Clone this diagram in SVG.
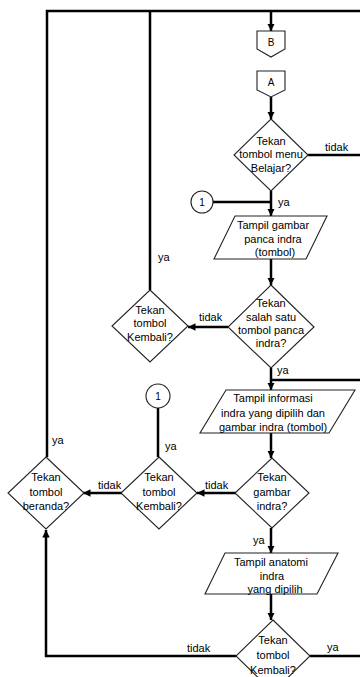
<svg xmlns="http://www.w3.org/2000/svg" width="360" height="677" viewBox="0 0 360 677">
<defs>
<marker id="arr" viewBox="0 0 10 10" refX="10" refY="5" markerWidth="3" markerHeight="3" orient="auto" markerUnits="strokeWidth">
<path d="M0,0 L10,5 L0,10 z" fill="#000"/>
</marker>
<style>
.shape{fill:#fff;stroke:#222;stroke-width:1.1}
.ln{fill:none;stroke:#000;stroke-width:2.5}
.la{fill:none;stroke:#000;stroke-width:2.5;marker-end:url(#arr)}
text{font-family:"Liberation Sans",Arial,sans-serif;font-size:11px;fill:#000}
.c{text-anchor:middle}
</style>
</defs>
<rect width="360" height="677" fill="#fff"/>
<g id="connectors">
<path class="ln" d="M47,457 V11 H360"/>
<path class="ln" d="M150,290 V11"/>
<path class="la" d="M271,11 V31"/>
<path class="la" d="M271,97 V119"/>
<path class="ln" d="M308,155 H360"/>
<path class="ln" d="M213,202 H271"/>
<path class="la" d="M271,191 V216"/>
<path class="la" d="M271,259 V285"/>
<path class="la" d="M228,327 H188"/>
<path class="la" d="M271,368 V390"/>
<path class="ln" d="M360,380 H271"/>
<path class="la" d="M271,433 V458"/>
<path class="la" d="M236,493 H197"/>
<path class="la" d="M122,493 H83"/>
<path class="ln" d="M158,408 V457"/>
<path class="la" d="M271,528 V553"/>
<path class="la" d="M271,594 V620"/>
<path class="la" d="M236,656 H46 V530"/>
<path class="ln" d="M310,656 H360"/>
<text x="325" y="151">tidak</text>
<text x="278" y="206">ya</text>
<text x="158" y="261">ya</text>
<text x="199" y="321">tidak</text>
<text x="277" y="374">ya</text>
<text x="52" y="444">ya</text>
<text x="165" y="450">ya</text>
<text x="205" y="489">tidak</text>
<text x="98" y="489">tidak</text>
<text x="253" y="544">ya</text>
<text x="187" y="652">tidak</text>
<text x="327" y="651">ya</text>
</g>
<g id="offpage-B">
<path class="shape" d="M257,31 H285 V49 L271,57 L257,49 Z"/>
<text class="c" x="271" y="46" style="font-size:10px">B</text>
</g>
<g id="offpage-A">
<path class="shape" d="M257,71 H285 V90 L271,97 L257,90 Z"/>
<text class="c" x="271" y="86" style="font-size:10px">A</text>
</g>
<g id="d-menu-belajar">
<path class="shape" d="M271,119 L308,155 L271,191 L234,155 Z"/>
<text class="c" x="271" y="145">Tekan</text>
<text class="c" x="271" y="158">tombol menu</text>
<text class="c" x="271" y="172">Belajar?</text>
</g>
<g id="conn-1a">
<circle class="shape" cx="202" cy="202" r="11"/>
<text class="c" x="202" y="206" style="font-size:10px">1</text>
</g>
<g id="p-gambar-panca">
<path class="shape" d="M235,216 H327 L306,259 H214 Z"/>
<text class="c" x="273" y="229">Tampil gambar</text>
<text class="c" x="273" y="243">panca indra</text>
<text class="c" x="275" y="256">(tombol)</text>
</g>
<g id="d-salah-satu">
<path class="shape" d="M271,285 L314,327 L271,368 L228,327 Z"/>
<text class="c" x="271" y="307">Tekan</text>
<text class="c" x="271" y="321">salah satu</text>
<text class="c" x="271" y="334">tombol panca</text>
<text class="c" x="271" y="347">indra?</text>
</g>
<g id="d-kembali-1">
<path class="shape" d="M150,290 L188,326 L150,362 L112,326 Z"/>
<text class="c" x="150" y="314">Tekan</text>
<text class="c" x="150" y="327">tombol</text>
<text class="c" x="150" y="341">Kembali?</text>
</g>
<g id="p-informasi">
<path class="shape" d="M226,390 H355 L329,433 H200 Z"/>
<text class="c" x="273" y="402">Tampil informasi</text>
<text class="c" x="273" y="417">indra yang dipilih dan</text>
<text class="c" x="273" y="431">gambar indra (tombol)</text>
</g>
<g id="conn-1b">
<circle class="shape" cx="158" cy="396" r="12"/>
<text class="c" x="158" y="400" style="font-size:10px">1</text>
</g>
<g id="d-gambar-indra">
<path class="shape" d="M272,458 L309,493 L272,528 L235,493 Z"/>
<text class="c" x="272" y="481">Tekan</text>
<text class="c" x="272" y="496">gambar</text>
<text class="c" x="272" y="510">indra?</text>
</g>
<g id="d-kembali-2">
<path class="shape" d="M159,457 L197,493 L159,529 L121,493 Z"/>
<text class="c" x="159" y="481">Tekan</text>
<text class="c" x="159" y="496">tombol</text>
<text class="c" x="159" y="510">Kembali?</text>
</g>
<g id="d-beranda">
<path class="shape" d="M46,457 L84,493 L46,529 L8,493 Z"/>
<text class="c" x="46" y="481">Tekan</text>
<text class="c" x="46" y="496">tombol</text>
<text class="c" x="46" y="510">beranda?</text>
</g>
<g id="p-anatomi">
<path class="shape" d="M225,553 H338 L317,594 H205 Z"/>
<text class="c" x="271" y="566">Tampil anatomi</text>
<text class="c" x="272" y="580">indra</text>
<text class="c" x="275" y="593">yang dipilih</text>
</g>
<g id="d-kembali-3">
<path class="shape" d="M273,620 L310,656 L273,692 L236,656 Z"/>
<text class="c" x="273" y="644">Tekan</text>
<text class="c" x="273" y="659">tombol</text>
<text class="c" x="273" y="674">Kembali?</text>
</g>
</svg>
